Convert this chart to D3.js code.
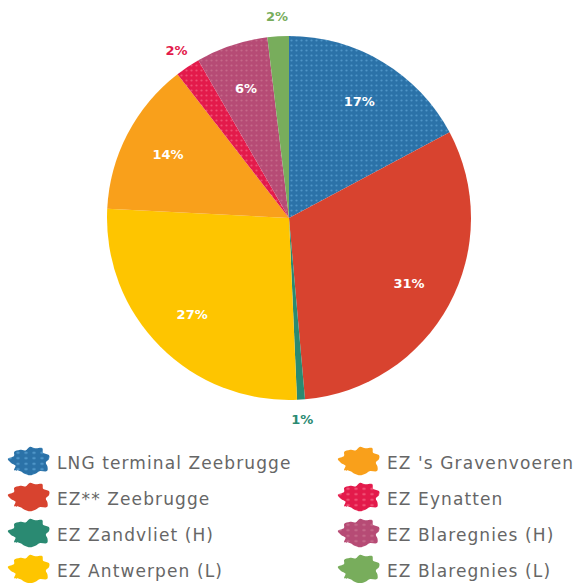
<!DOCTYPE html>
<html>
<head>
<meta charset="utf-8">
<script src="https://cdn.jsdelivr.net/npm/d3@7"></script>
<style>
  body { margin: 0; background: #fff; }
  svg { display: block; }
</style>
</head>
<body>
<div id="wrapper"></div>
<script>
// data
const names = [
  "LNG terminal Zeebrugge",
  "EZ** Zeebrugge",
  "EZ Zandvliet (H)",
  "EZ Antwerpen (L)",
  "EZ 's Gravenvoeren",
  "EZ Eynatten",
  "EZ Blaregnies (H)",
  "EZ Blaregnies (L)"
]
const values = [17.2, 31.4, 0.7, 26.5, 13.7, 2.2, 6.4, 1.9]
const labels = ["17%", "31%", "1%", "27%", "14%", "2%", "6%", "2%"]
const outside = [false, false, true, false, false, true, false, true]
const colors = ["#2b72a8", "#d8432f", "#2a8a72", "#fec500", "#f9a01b", "#e31a4b", "#b64b75", "#78ad5c"]

const width = 575
const height = 583
const center = { x: 289, y: 218 }
const radius = 182

const svg = d3.select("#wrapper")
  .append("svg")
    .attr("width", width)
    .attr("height", height)

// halftone dot patterns for a few of the slices
const defs = svg.append("defs")
const dotted = { 0: "#4e95c8", 5: "#f04f74", 6: "#c56889" }
Object.entries(dotted).forEach(([i, dot]) => {
  const p = defs.append("pattern")
      .attr("id", "dots" + i)
      .attr("width", 5)
      .attr("height", 5)
      .attr("patternUnits", "userSpaceOnUse")
  p.append("rect").attr("width", 5).attr("height", 5).attr("fill", colors[i])
  p.append("circle").attr("cx", 2.5).attr("cy", 2.5).attr("r", 1.1).attr("fill", dot)
})
const fillFor = i => dotted[i] ? `url(#dots${i})` : colors[i]

const pie = d3.pie().sort(null).value(d => d)
const arcs = pie(values)

const arc = d3.arc().innerRadius(0).outerRadius(radius)
const inLabel = d3.arc().innerRadius(radius * 0.75).outerRadius(radius * 0.75)
const outLabel = d3.arc().innerRadius(radius * 1.11).outerRadius(radius * 1.11)

const bounds = svg.append("g")
    .attr("transform", `translate(${center.x},${center.y})`)

bounds.selectAll("path")
    .data(arcs)
  .enter().append("path")
    .attr("d", arc)
    .attr("fill", (d, i) => fillFor(i))

bounds.selectAll("text")
    .data(arcs)
  .enter().append("text")
    .attr("transform", (d, i) => `translate(${(outside[i] ? outLabel : inLabel).centroid(d)})`)
    .attr("text-anchor", "middle")
    .attr("dy", "0.35em")
    .attr("fill", (d, i) => outside[i] ? colors[i] : "#fff")
    .style("font-family", "'DejaVu Sans', sans-serif")
    .style("font-weight", "bold")
    .style("font-size", "13px")
    .text((d, i) => labels[i])

// legend with splash shaped swatches (lumpy blob, flat-ish bottom)
const blobRadii = [13, 12, 14, 11, 13, 12, 10, 12, 14, 11, 12, 13, 12, 11, 13, 10, 12, 14, 11, 13, 12, 10]
const blob = d3.lineRadial()
    .angle((d, i) => i / blobRadii.length * 2 * Math.PI)
    .radius(d => d)
    .curve(d3.curveCatmullRomClosed)

const legend = svg.append("g")
const rows = 4
const item = legend.selectAll("g")
    .data(names)
  .enter().append("g")
    .attr("transform", (d, i) => {
      const col = Math.floor(i / rows)
      const row = i % rows
      return `translate(${col === 0 ? 30 : 360},${461 + row * 36})`
    })

item.append("path")
    .attr("d", blob(blobRadii))
    .attr("transform", "scale(1.6,1.1)")
    .attr("fill", (d, i) => fillFor(i))

item.append("text")
    .attr("x", 27)
    .attr("y", 8)
    .attr("fill", "#666")
    .style("font-family", "'DejaVu Sans', sans-serif")
    .style("font-size", "17px")
    .style("letter-spacing", "1.1px")
    .text(d => d)
</script>
</body>
</html>
